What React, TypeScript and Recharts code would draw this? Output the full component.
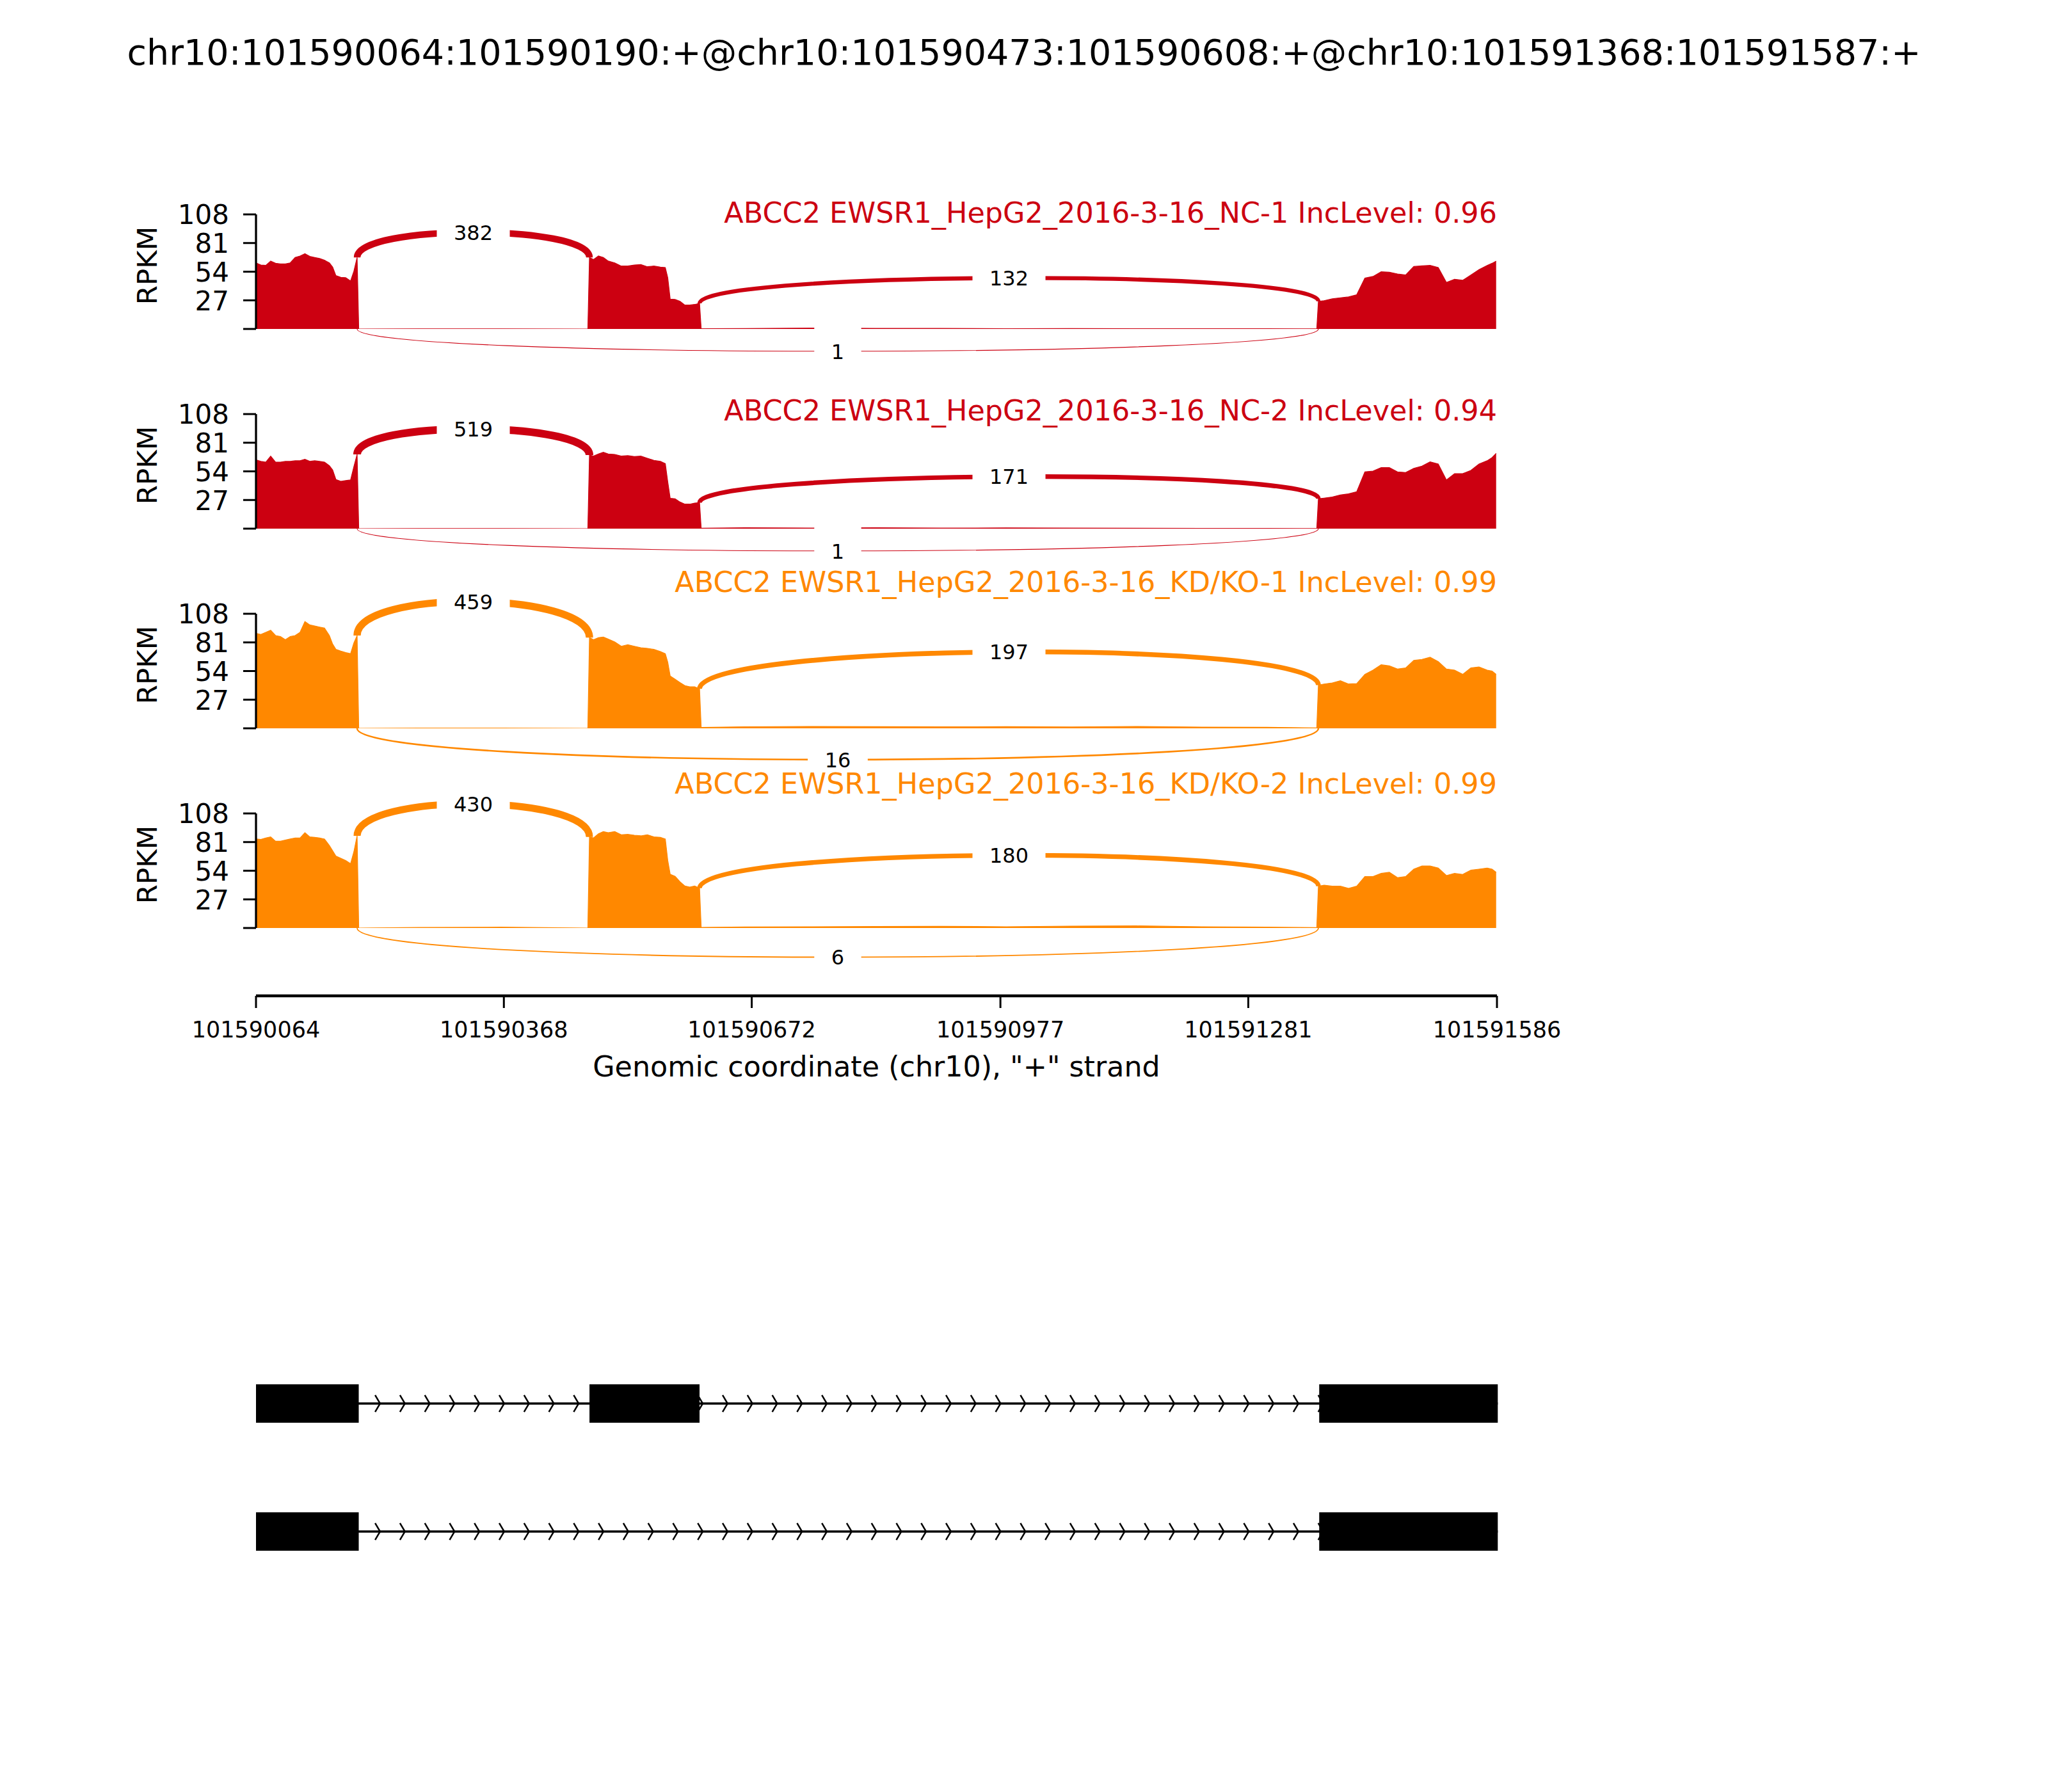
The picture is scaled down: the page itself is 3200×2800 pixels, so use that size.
import React from "react";
import {
  AreaChart,
  Area,
  ComposedChart,
  Line,
  XAxis,
  YAxis,
  ReferenceArea,
} from "recharts";

const FONT = "'DejaVu Sans', sans-serif";

const REGION_START = 101590064;
const REGION_END = 101591586;

const title =
  "chr10:101590064:101590190:+@chr10:101590473:101590608:+@chr10:101591368:101591587:+";
const xAxisLabel = 'Genomic coordinate (chr10), "+" strand';
const xTicks = [101590064, 101590368, 101590672, 101590977, 101591281, 101591586];
const yTicks = [0, 27, 54, 81, 108];

const sampleNames = [
  "ABCC2 EWSR1_HepG2_2016-3-16_NC-1 IncLevel: 0.96",
  "ABCC2 EWSR1_HepG2_2016-3-16_NC-2 IncLevel: 0.94",
  "ABCC2 EWSR1_HepG2_2016-3-16_KD/KO-1 IncLevel: 0.99",
  "ABCC2 EWSR1_HepG2_2016-3-16_KD/KO-2 IncLevel: 0.99",
];
const sampleColors = ["#CC0011", "#CC0011", "#FF8800", "#FF8800"];

// coverage sample positions (bp from REGION_START)
const covOffsets = [
  // exon 1
  0, 6, 12, 18, 24, 30, 36, 42, 48, 54, 60, 66, 72, 78, 84, 90, 94, 98, 104, 110, 116, 120, 124,
  // intron 1
  126, 200, 300, 407,
  // exon 2
  409, 414, 420, 426, 432, 440, 448, 456, 464, 472, 480, 488, 496, 502, 505, 508, 514, 520, 526, 532, 538, 544,
  // intron 2
  546, 600, 680, 760, 840, 920, 1000, 1080, 1160, 1240, 1301,
  // exon 3
  1303, 1310, 1320, 1330, 1340, 1350, 1360, 1370, 1380, 1390, 1400, 1410, 1420, 1430, 1440, 1450,
  1460, 1470, 1480, 1490, 1500, 1510, 1516, 1521,
];

// RPKM per sample, same order as covOffsets
const covNC1 = [
  62.3, 60.3, 59.9, 64.0, 61.9, 61.3, 61.3, 62.3, 67.4, 68.8, 71.0, 68.4, 67.4, 66.4, 64.8, 62.3, 58.3, 50.3, 48.7, 48.3, 45.3, 54.3, 67.4,
  0, 0.1, 0.1, 0,
  67.4, 65.4, 68.8, 67.4, 64.0, 62.3, 59.3, 59.3, 60.3, 60.7, 58.7, 59.3, 58.3, 57.9, 48.3, 28.2, 27.8, 26.1, 22.5, 22.5, 23.1, 24.1,
  0.3, 0.4, 0.8, 0.6, 0.5, 0.3, 0.4, 0.3, 0.2, 0.2, 0.1,
  26.1, 26.7, 28.4, 29.4, 30.2, 32.2, 47.9, 49.5, 53.9, 53.5, 51.9, 50.9, 58.9, 59.5, 59.9, 57.9, 43.8, 46.9, 45.9, 50.9, 55.9, 59.9, 61.9, 64.0,
];
const covNC2 = [
  64.8, 63.4, 62.7, 68.4, 62.7, 62.7, 63.4, 63.4, 64.0, 64.0, 65.4, 63.4, 64.0, 63.4, 62.7, 59.3, 55.3, 46.3, 44.6, 45.3, 45.9, 58.3, 70.0,
  0, 0.1, 0.1, 0,
  69.4, 68.4, 70.4, 72.0, 70.4, 70.0, 68.4, 68.8, 68.0, 68.4, 66.4, 64.4, 63.4, 61.3, 44.2, 28.6, 28.2, 25.1, 23.1, 23.1, 24.1, 24.5,
  0.4, 0.8, 0.6, 0.8, 0.5, 0.7, 0.5, 0.4, 0.3, 0.3, 0.1,
  28.2, 28.8, 29.8, 31.8, 32.8, 34.8, 53.5, 54.3, 57.5, 57.5, 53.5, 52.9, 56.9, 58.9, 62.9, 60.9, 45.9, 51.9, 51.9, 54.9, 60.9, 64.0, 67.0, 71.0,
];
const covKD1 = [
  89.5, 88.5, 90.5, 92.5, 87.5, 86.5, 83.5, 86.5, 87.5, 90.5, 100.6, 97.5, 96.5, 95.5, 94.5, 87.5, 79.4, 74.4, 72.8, 71.4, 70.4, 80.4, 87.5,
  0, 0.2, 0.2, 0,
  85.5, 83.5, 85.5, 86.1, 84.1, 81.5, 77.4, 78.8, 77.4, 76.0, 75.4, 74.4, 72.4, 70.4, 62.3, 49.3, 46.3, 43.2, 40.2, 39.2, 39.2, 37.2,
  0.8, 1.5, 1.8, 1.6, 1.4, 1.6, 1.3, 1.8, 1.2, 1.0, 0.4,
  40.8, 41.8, 42.8, 44.8, 41.8, 42.2, 50.9, 54.9, 59.9, 58.9, 55.9, 56.9, 64.0, 65.0, 67.0, 62.9, 55.9, 54.9, 50.9, 56.9, 57.9, 54.9, 53.9, 50.9,
];
const covKD2 = [
  83.9, 83.5, 84.9, 85.9, 81.8, 81.8, 82.9, 83.9, 84.9, 84.9, 89.9, 85.9, 85.5, 84.9, 83.9, 77.8, 72.8, 67.8, 65.8, 63.7, 60.7, 71.8, 86.9,
  0, 0.5, 0.8, 0,
  85.9, 84.9, 88.9, 90.9, 89.9, 90.9, 87.9, 88.3, 87.5, 86.9, 87.9, 85.9, 85.5, 83.9, 63.7, 50.7, 48.7, 43.6, 39.6, 38.6, 39.6, 37.6,
  0.6, 1.0, 1.2, 1.4, 1.6, 1.2, 1.8, 2.0, 1.2, 0.8, 0.4,
  39.4, 40.4, 39.4, 39.4, 37.4, 39.4, 48.5, 48.5, 51.5, 52.5, 47.5, 48.5, 55.5, 58.5, 58.5, 56.5, 49.5, 51.5, 50.5, 54.5, 55.5, 56.5, 55.5, 52.5,
];
const coverage = [covNC1, covNC2, covKD1, covKD2];

// junctions: inclusion 1, inclusion 2, skipping
const juncStarts = [101590188, 101590608, 101590188];
const juncEnds = [101590473, 101591367, 101591367];
const juncCounts = [
  [382, 132, 1],
  [519, 171, 1],
  [459, 197, 16],
  [430, 180, 6],
];
// height of arc apex (RPKM units), negative = drawn below the track
const juncPeaks = [
  [91, 48, -21],
  [94, 49, -21],
  [119.5, 72, -29.5],
  [117, 68.5, -27.5],
];

// gene model
const incExonStarts = [101590064, 101590473, 101591368];
const incExonEnds = [101590190, 101590608, 101591587];
const skipExonStarts = [101590064, 101591368];
const skipExonEnds = [101590190, 101591587];

// layout
const PLOT_LEFT = 400;
const PLOT_RIGHT = 2339;
const Y_AXIS_WIDTH = 200;
const FIRST_PLOT_TOP = 334.5;
const PANEL_STEP = 312;
const PLOT_HEIGHT = 179;
const PANEL_PAD_TOP = 100;
const PANEL_PAD_BOTTOM = 120;
const AXIS_Y = 1556;
const GENE_PLOT_TOP = 2093;
const labelBaselines = [348, 657, 925, 1240];

const covAt = (panel: number, pos: number) =>
  coverage[panel][covOffsets.indexOf(pos - REGION_START)] ?? 0;

const junctionWidth = (count: number) => 0.6 + 0.5 * Math.sqrt(count);

const renderYTick = (props: any) => {
  const { x, y, payload } = props;
  if (payload.value === 0) return <g />;
  return (
    <text x={x} y={y} dy={15.3} textAnchor="end" fontSize={42} fontFamily={FONT} fill="#000">
      {payload.value}
    </text>
  );
};

const renderXTick = (props: any) => {
  const { x, y, payload } = props;
  return (
    <text x={x} y={y} dy={46} textAnchor="middle" fontSize={35} fontFamily={FONT} fill="#000">
      {payload.value}
    </text>
  );
};

function renderJunction(rect: any, panel: number, j: number) {
  const { x, y, width, height } = rect;
  const s = juncStarts[j];
  const e = juncEnds[j];
  const count = juncCounts[panel][j];
  const peak = juncPeaks[panel][j];
  const color = sampleColors[panel];
  const px = (v: number) => x + ((v - s) / (e - s)) * width;
  const py = (v: number) => y + height - (v / 108) * height;

  let d: string;
  if (peak > 0) {
    const yl = covAt(panel, s);
    const yr = covAt(panel, e);
    const h = (peak - (yl + yr) / 2) / 0.75;
    d = `M${px(s)},${py(yl)} C${px(s)},${py(yl + h)} ${px(e)},${py(yr + h)} ${px(e)},${py(yr)}`;
  } else {
    const h = peak / 0.75;
    d = `M${px(s)},${py(0)} C${px(s)},${py(h)} ${px(e)},${py(h)} ${px(e)},${py(0)}`;
  }
  const cx = px((s + e) / 2);
  const cy = py(peak);
  const label = String(count);
  const boxW = label.length * 0.636 * 32 + 53;
  const boxH = 89;
  return (
    <g>
      <path d={d} fill="none" stroke={color} strokeWidth={junctionWidth(count)} />
      <rect x={cx - boxW / 2} y={cy - boxH / 2} width={boxW} height={boxH} fill="#fff" />
      <text x={cx} y={cy} dy={11.7} textAnchor="middle" fontSize={32} fontFamily={FONT} fill="#000">
        {label}
      </text>
    </g>
  );
}

function CoveragePanel({ index }: { index: number }) {
  const values = coverage[index];
  const color = sampleColors[index];
  const data = covOffsets.map((o, k) => ({ pos: REGION_START + o, v: values[k] }));
  const top = FIRST_PLOT_TOP + index * PANEL_STEP - PANEL_PAD_TOP;

  return (
    <div style={{ position: "absolute", left: 0, top }}>
      <AreaChart
        width={3200}
        height={PANEL_PAD_TOP + PLOT_HEIGHT + PANEL_PAD_BOTTOM}
        data={data}
        margin={{
          top: PANEL_PAD_TOP,
          right: 3200 - PLOT_RIGHT,
          bottom: PANEL_PAD_BOTTOM,
          left: PLOT_LEFT - Y_AXIS_WIDTH,
        }}
      >
        <XAxis dataKey="pos" type="number" domain={[REGION_START, REGION_END]} allowDataOverflow hide />
        <YAxis
          type="number"
          domain={[0, 108]}
          ticks={yTicks}
          interval={0}
          allowDataOverflow
          width={Y_AXIS_WIDTH}
          tickSize={20}
          tickMargin={22}
          axisLine={{ stroke: "#000", strokeWidth: 3.3 }}
          tickLine={{ stroke: "#000", strokeWidth: 3 }}
          tick={renderYTick}
        />
        <Area
          type="linear"
          dataKey="v"
          stroke={color}
          strokeWidth={1.2}
          fill={color}
          fillOpacity={1}
          dot={false}
          activeDot={false}
          isAnimationActive={false}
        />
        {juncStarts.map((s, j) => (
          <ReferenceArea
            key={j}
            x1={s}
            x2={juncEnds[j]}
            y1={0}
            y2={108}
            ifOverflow="visible"
            zIndex={2000}
            shape={(p: any) => renderJunction(p, index, j)}
          />
        ))}
      </AreaChart>
    </div>
  );
}

function GenomicAxis() {
  const data = xTicks.map((t) => ({ pos: t, y: 0 }));
  return (
    <div style={{ position: "absolute", left: 0, top: AXIS_Y - 106 }}>
      <ComposedChart
        width={3200}
        height={250}
        data={data}
        margin={{ top: 6, right: 3200 - PLOT_RIGHT, bottom: 0, left: PLOT_LEFT }}
      >
        <XAxis
          dataKey="pos"
          type="number"
          domain={[REGION_START, REGION_END]}
          allowDataOverflow
          ticks={xTicks}
          interval={0}
          height={144}
          tickSize={19}
          tickMargin={0}
          axisLine={{ stroke: "#000", strokeWidth: 4.5 }}
          tickLine={{ stroke: "#000", strokeWidth: 3 }}
          tick={renderXTick}
        />
        <YAxis hide type="number" domain={[0, 1]} />
        <Line dataKey="y" stroke="none" dot={false} activeDot={false} isAnimationActive={false} />
      </ComposedChart>
    </div>
  );
}

function renderTranscript(rect: any, starts: number[], ends: number[]) {
  const { x, y, width, height } = rect;
  const t0 = Math.min(...starts);
  const t1 = Math.max(...ends);
  const px = (v: number) => x + ((v - t0) / (t1 - t0)) * width;
  const cy = y + height / 2;
  const step = (REGION_END - REGION_START) / 50;
  const arm = height * 0.22;
  const chevrons: React.ReactNode[] = [];
  for (let i = 1; i < 50; i++) {
    const tip = REGION_START + i * step;
    if (tip > t1) break;
    const tail = px(tip - 0.2 * step);
    chevrons.push(
      <polyline
        key={i}
        points={`${tail},${cy - arm} ${px(tip)},${cy} ${tail},${cy + arm}`}
        fill="none"
        stroke="#000"
        strokeWidth={2.5}
      />
    );
  }
  return (
    <g>
      <line x1={px(t0)} x2={px(t1)} y1={cy} y2={cy} stroke="#000" strokeWidth={3.5} />
      {chevrons}
      {starts.map((s, k) => (
        <rect key={k} x={px(s)} y={y} width={px(ends[k]) - px(s)} height={height} fill="#000" />
      ))}
    </g>
  );
}

function GeneModel() {
  const data = [
    { pos: REGION_START, y: 0 },
    { pos: REGION_END, y: 0 },
  ];
  const tracks = [
    { row: 3, starts: incExonStarts, ends: incExonEnds },
    { row: 1, starts: skipExonStarts, ends: skipExonEnds },
  ];
  return (
    <div style={{ position: "absolute", left: 0, top: GENE_PLOT_TOP - 20 }}>
      <ComposedChart
        width={3200}
        height={440}
        data={data}
        margin={{ top: 20, right: 3200 - PLOT_RIGHT, bottom: 20, left: PLOT_LEFT }}
      >
        <XAxis dataKey="pos" type="number" domain={[REGION_START, REGION_END]} allowDataOverflow hide />
        <YAxis hide type="number" domain={[0, 4]} allowDataOverflow />
        <Line dataKey="y" stroke="none" dot={false} activeDot={false} isAnimationActive={false} />
        {tracks.map((tr, t) => (
          <ReferenceArea
            key={t}
            x1={Math.min(...tr.starts)}
            x2={Math.max(...tr.ends)}
            y1={tr.row - 0.3}
            y2={tr.row + 0.3}
            ifOverflow="visible"
            shape={(p: any) => renderTranscript(p, tr.starts, tr.ends)}
          />
        ))}
      </ComposedChart>
    </div>
  );
}

export default function App() {
  return (
    <div
      style={{
        position: "absolute",
        left: 0,
        top: 0,
        width: 3200,
        height: 2800,
        background: "#fff",
        fontFamily: FONT,
      }}
    >
      {sampleNames.map((_, i) => (
        <CoveragePanel key={i} index={i} />
      ))}
      <GenomicAxis />
      <GeneModel />
      <svg
        width={3200}
        height={2800}
        style={{ position: "absolute", left: 0, top: 0, pointerEvents: "none" }}
        fontFamily={FONT}
      >
        <text x={1600} y={101} textAnchor="middle" fontSize={55.5} fill="#000">
          {title}
        </text>
        {sampleNames.map((name, i) => (
          <g key={i}>
            <text x={PLOT_RIGHT} y={labelBaselines[i]} textAnchor="end" fontSize={44.5} fill={sampleColors[i]}>
              {name}
            </text>
            <text
              transform={`translate(245, ${415 + i * PANEL_STEP}) rotate(-90)`}
              textAnchor="middle"
              fontSize={43.5}
              fill="#000"
            >
              RPKM
            </text>
          </g>
        ))}
        <text x={(PLOT_LEFT + PLOT_RIGHT) / 2} y={1682} textAnchor="middle" fontSize={44.4} fill="#000">
          {xAxisLabel}
        </text>
      </svg>
    </div>
  );
}
